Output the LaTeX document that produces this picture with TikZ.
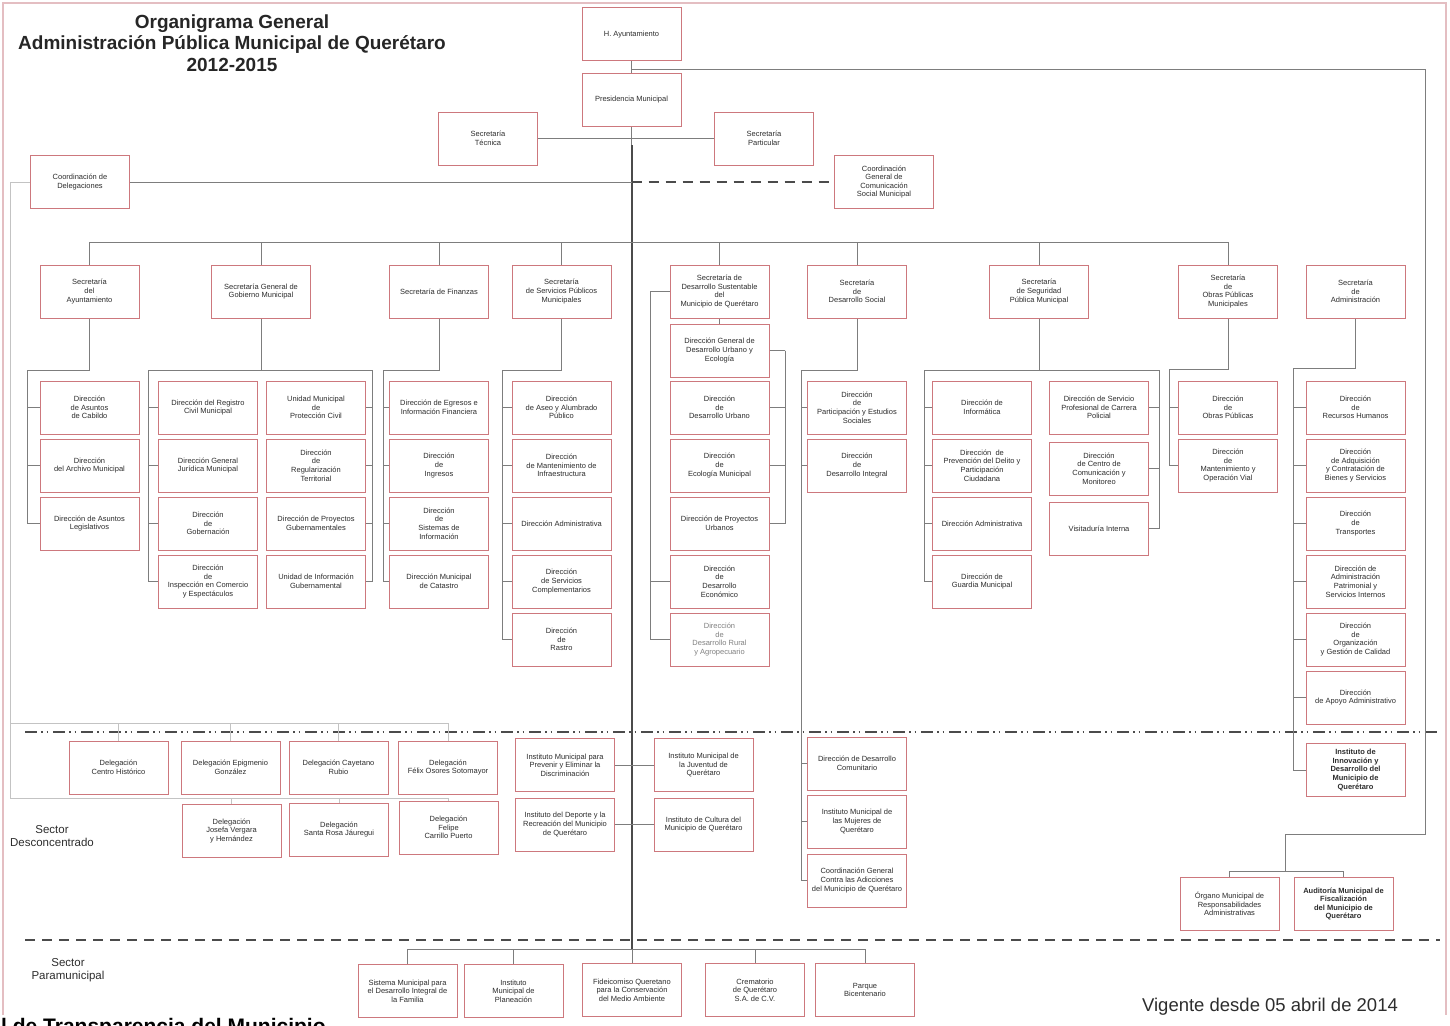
\documentclass[tikz,border=0pt]{standalone}
\usepackage{fontspec}
\setmainfont{Liberation Sans}
\definecolor{boxred}{RGB}{205,120,125}
\definecolor{linkgrey}{RGB}{125,125,125}
\definecolor{lightgrey}{RGB}{195,195,195}
\definecolor{darkgrey}{RGB}{75,75,75}
\definecolor{txtgrey}{RGB}{45,45,45}
\definecolor{framepink}{RGB}{228,190,194}
\newcommand\boxfont{\fontsize{7.5}{8.6}\selectfont}
\begin{document}
\begin{tikzpicture}[x=1pt,y=-1pt,
  box/.style={draw=boxred,line width=1pt,fill=white,minimum width=99pt,minimum height=53pt,align=center,text=txtgrey,font=\boxfont,inner sep=1pt},
  boldbox/.style={box,font=\boxfont\bfseries},
  link/.style={draw=linkgrey,line width=1pt},
  lightlink/.style={draw=lightgrey,line width=1pt},
  trunk/.style={draw=darkgrey,line width=2pt},
  sepline/.style={draw=darkgrey,line width=1.8pt}]
\useasboundingbox (0,0) rectangle (1450,1025);
\draw[framepink,line width=1.2pt] (3,1015) -- (3,3) -- (1446,3) -- (1446,1015);
\node[font=\bfseries\fontsize{19}{21.5}\selectfont,align=center,text=black!85] (title) at (232,43) {Organigrama General\\Administración Pública Municipal de Querétaro\\2012-2015};
\node[font=\fontsize{11.5}{12.5}\selectfont,align=center,text=txtgrey] (sdesc) at (52,836) {Sector\\Desconcentrado};
\node[font=\fontsize{11.5}{12.5}\selectfont,align=center,text=txtgrey] (spara) at (68,970) {Sector\\Paramunicipal};
\node[font=\fontsize{18.5}{20}\selectfont,text=txtgrey] (vig) at (1270,1007) {Vigente desde 05 abril de 2014};
\node[font=\bfseries\fontsize{21}{22}\selectfont,anchor=base west,inner sep=0pt] (transp) at (1,1033) {l de Transparencia del Municipio};
\draw[sepline,dash pattern=on 12pt off 4pt on 1.5pt off 4pt on 1.5pt off 5pt] (25,732) -- (1440,732);
\draw[sepline,dash pattern=on 10pt off 7pt] (25,940) -- (1440,940);
\node[box] (hayto) at (631.5,34.5) {H. Ayuntamiento};
\node[box] (pres) at (631.5,100) {Presidencia Municipal};
\node[box] (stec) at (488,138.5) {Secretaría\\Técnica};
\node[box] (spart) at (764,138.5) {Secretaría\\Particular};
\node[box] (cdel) at (80,182) {Coordinación de\\Delegaciones};
\node[box] (ccom) at (884,182) {Coordinación\\General de\\Comunicación\\Social Municipal};
\node[box] (sayto) at (89.5,291.5) {Secretaría\\del\\Ayuntamiento};
\node[box] (sgob) at (261,291.5) {Secretaría General de\\Gobierno Municipal};
\node[box] (sfin) at (439,291.5) {Secretaría de Finanzas};
\node[box] (sserv) at (561.5,291.5) {Secretaría\\de Servicios Públicos\\Municipales};
\node[box] (ssust) at (719.5,291.5) {Secretaría de\\Desarrollo Sustentable\\del\\Municipio de Querétaro};
\node[box] (ssoc) at (857,291.5) {Secretaría\\de\\Desarrollo Social};
\node[box] (sseg) at (1039,291.5) {Secretaría\\de Seguridad\\Pública Municipal};
\node[box] (sobr) at (1228,291.5) {Secretaría\\de\\Obras Públicas\\Municipales};
\node[box] (sadm) at (1355.5,291.5) {Secretaría\\de\\Administración};
\node[box] (dcab) at (89.5,407.5) {Dirección\\de Asuntos\\de Cabildo};
\node[box] (darch) at (89.5,465.5) {Dirección\\del Archivo Municipal};
\node[box] (dleg) at (89.5,523.5) {Dirección de Asuntos\\Legislativos};
\node[box] (dreg) at (208,407.5) {Dirección del Registro\\Civil Municipal};
\node[box] (djur) at (208,465.5) {Dirección General\\Jurídica Municipal};
\node[box] (dgobn) at (208,523.5) {Dirección\\de\\Gobernación};
\node[box] (dinsp) at (208,581.5) {Dirección\\de\\Inspección en Comercio\\y Espectáculos};
\node[box] (dpc) at (316,407.5) {Unidad Municipal\\de\\Protección Civil};
\node[box] (dregt) at (316,465.5) {Dirección\\de\\Regularización\\Territorial};
\node[box] (dproy) at (316,523.5) {Dirección de Proyectos\\Gubernamentales};
\node[box] (duig) at (316,581.5) {Unidad de Información\\Gubernamental};
\node[box] (degr) at (439,407.5) {Dirección de Egresos e\\Información Financiera};
\node[box] (ding) at (439,465.5) {Dirección\\de\\Ingresos};
\node[box] (dsis) at (439,523.5) {Dirección\\de\\Sistemas de\\Información};
\node[box] (dcat) at (439,581.5) {Dirección Municipal\\de Catastro};
\node[box] (dasal) at (561.5,407.5) {Dirección\\de Aseo y Alumbrado\\Público};
\node[box] (dmant) at (561.5,465.5) {Dirección\\de Mantenimiento de\\Infraestructura};
\node[box] (dadms) at (561.5,523.5) {Dirección Administrativa};
\node[box] (dscomp) at (561.5,581.5) {Dirección\\de Servicios\\Complementarios};
\node[box] (drast) at (561.5,639.5) {Dirección\\de\\Rastro};
\node[box] (dgdu) at (719.5,350.5) {Dirección General de\\Desarrollo Urbano y\\Ecología};
\node[box] (ddu) at (719.5,407.5) {Dirección\\de\\Desarrollo Urbano};
\node[box] (deco) at (719.5,465.5) {Dirección\\de\\Ecología Municipal};
\node[box] (dpu) at (719.5,523.5) {Dirección de Proyectos\\Urbanos};
\node[box] (ddec) at (719.5,581.5) {Dirección\\de\\Desarrollo\\Económico};
\node[box,text=gray] (drur) at (719.5,639.5) {Dirección\\de\\Desarrollo Rural\\y Agropecuario};
\node[box] (dpart) at (857,407.5) {Dirección\\de\\Participación y Estudios\\Sociales};
\node[box] (dint) at (857,465.5) {Dirección\\de\\Desarrollo Integral};
\node[box] (dcom) at (857,763.5) {Dirección de Desarrollo\\Comunitario};
\node[box] (imuj) at (857,821.5) {Instituto Municipal de\\las Mujeres de\\Querétaro};
\node[box] (cadic) at (857,880.5) {Coordinación General\\Contra las Adicciones\\del Municipio de Querétaro};
\node[box] (dinf) at (982,407.5) {Dirección de\\Informática};
\node[box] (dprev) at (982,465.5) {Dirección~ de\\Prevención del Delito y\\Participación\\Ciudadana};
\node[box] (dadmseg) at (982,523.5) {Dirección Administrativa};
\node[box] (dguar) at (982,581.5) {Dirección de\\Guardia Municipal};
\node[box] (dspc) at (1099,407.5) {Dirección de Servicio\\Profesional de Carrera\\Policial};
\node[box] (dccm) at (1099,468.5) {Dirección\\de Centro de\\Comunicación y\\Monitoreo};
\node[box] (dvis) at (1099,528.5) {Visitaduría Interna};
\node[box] (dobp) at (1228,407.5) {Dirección\\de\\Obras Públicas};
\node[box] (dmov) at (1228,465.5) {Dirección\\de\\Mantenimiento y\\Operación Vial};
\node[box] (drh) at (1355.5,407.5) {Dirección\\de\\Recursos Humanos};
\node[box] (dadq) at (1355.5,465.5) {Dirección\\de Adquisición\\y Contratación de\\Bienes y Servicios};
\node[box] (dtra) at (1355.5,523.5) {Dirección\\de\\Transportes};
\node[box] (dpat) at (1355.5,581.5) {Dirección de\\Administración\\Patrimonial y\\Servicios Internos};
\node[box] (dorg) at (1355.5,639.5) {Dirección\\de\\Organización\\y Gestión de Calidad};
\node[box] (dapo) at (1355.5,697.5) {Dirección\\de Apoyo Administrativo};
\node[boldbox] (iinn) at (1355.5,770) {Instituto de\\Innovación y\\Desarrollo del\\Municipio de\\Querétaro};
\node[box] (organo) at (1229.5,904) {Órgano Municipal de\\Responsabilidades\\Administrativas};
\node[boldbox] (audit) at (1343.5,904) {Auditoría Municipal de\\Fiscalización\\del Municipio de\\Querétaro};
\node[box] (ipred) at (565,765) {Instituto Municipal para\\Prevenir y Eliminar la\\Discriminación};
\node[box] (idep) at (565,824.5) {Instituto del Deporte y la\\Recreación del Municipio\\de Querétaro};
\node[box] (ijuv) at (703.5,765) {Instituto Municipal de\\la Juventud de\\Querétaro};
\node[box] (icul) at (703.5,824.5) {Instituto de Cultura del\\Municipio de Querétaro};
\node[box] (dlch) at (118.5,767.5) {Delegación\\Centro Histórico};
\node[box] (dlepi) at (230.5,767.5) {Delegación Epigmenio\\González};
\node[box] (dlcay) at (338.5,767.5) {Delegación Cayetano\\Rubio};
\node[box] (dlfel) at (448,767.5) {Delegación\\Félix Osores Sotomayor};
\node[box] (dljos) at (231.5,831) {Delegación\\Josefa Vergara\\y Hernández};
\node[box] (dlsr) at (339,829.5) {Delegación\\Santa Rosa Jáuregui};
\node[box] (dlfcp) at (448.5,827.5) {Delegación\\Felipe\\Carrillo Puerto};
\node[box] (sdif) at (407.5,991) {Sistema Municipal para\\el Desarrollo Integral de\\la Familia};
\node[box] (implan) at (513.5,991) {Instituto\\Municipal de\\Planeación};
\node[box] (fide) at (632,990) {Fideicomiso Queretano\\para la Conservación\\del Medio Ambiente};
\node[box] (crem) at (755,990) {Crematorio\\de Querétaro\\S.A. de C.V.};
\node[box] (parq) at (865,990) {Parque\\Bicentenario};
\coordinate (hbr) at (631.5,69);
\coordinate (tk) at (631.5,145);
\coordinate (sbus) at (631.5,242);
\coordinate (pbus) at (631.5,949);
\coordinate (cross) at (631.5,182);
\coordinate (aytoL) at (27,370);
\coordinate (gobL) at (148,370);
\coordinate (gobR) at (372,370);
\coordinate (finL) at (383,370);
\coordinate (servL) at (502,370);
\coordinate (susL) at (650,291.5);
\coordinate (susR) at (785,350.5);
\coordinate (socL) at (801,370);
\coordinate (segL) at (924,370);
\coordinate (segR) at (1159,370);
\coordinate (obrL) at (1169,369);
\coordinate (admL) at (1293,368);
\coordinate (ctl) at (1285,871);
\coordinate (delT) at (10,723);
\coordinate (delB) at (10,798);
\draw[link] (hayto) -- (pres);
\draw[link] (pres.south) -- (tk);
\draw[trunk] (tk) -- (pbus);
\draw[link] (hbr) -| (1425,834) -| (ctl);
\draw[link] (ctl) -| (organo.north);
\draw[link] (ctl) -| (audit.north);
\draw[link] (stec.east) -- (spart.west);
\draw[link] (cdel.east) -- (cross);
\draw[sepline,dash pattern=on 10pt off 7pt] (cross) -- (ccom.west);
\foreach \n in {sayto,sgob,sfin,sserv,ssust,ssoc,sseg,sobr}
  \draw[link] (sbus) -| (\n.north);
\draw[link] (sayto.south) |- (aytoL);
\foreach \n in {dcab,darch,dleg}
  \draw[link] (aytoL) |- (\n.west);
\draw[link] (sgob.south) -- (sgob.south |- gobL);
\draw[link] (gobL) -- (gobR);
\foreach \n in {dreg,djur,dgobn,dinsp}
  \draw[link] (gobL) |- (\n.west);
\foreach \n in {dpc,dregt,dproy,duig}
  \draw[link] (gobR) |- (\n.east);
\draw[link] (sfin.south) |- (finL);
\foreach \n in {degr,ding,dsis,dcat}
  \draw[link] (finL) |- (\n.west);
\draw[link] (sserv.south) |- (servL);
\foreach \n in {dasal,dmant,dadms,dscomp,drast}
  \draw[link] (servL) |- (\n.west);
\draw[link] (ssust.south) -- (dgdu.north);
\draw[link] (ssust.west) -- (susL);
\foreach \n in {ddec,drur}
  \draw[link] (susL) |- (\n.west);
\draw[link] (dgdu.east) -- (susR);
\foreach \n in {ddu,deco,dpu}
  \draw[link] (susR) |- (\n.east);
\draw[link] (ssoc.south) |- (socL);
\foreach \n in {dpart,dint,dcom,imuj,cadic}
  \draw[link] (socL) |- (\n.west);
\draw[link] (sseg.south) -- (sseg.south |- segL);
\draw[link] (segL) -- (segR);
\foreach \n in {dinf,dprev,dadmseg,dguar}
  \draw[link] (segL) |- (\n.west);
\foreach \n in {dspc,dccm,dvis}
  \draw[link] (segR) |- (\n.east);
\draw[link] (sobr.south) |- (obrL);
\foreach \n in {dobp,dmov}
  \draw[link] (obrL) |- (\n.west);
\draw[link] (sadm.south) |- (admL);
\foreach \n in {drh,dadq,dtra,dpat,dorg,dapo,iinn}
  \draw[link] (admL) |- (\n.west);
\draw[link] (ipred.east) -- (ijuv.west);
\draw[link] (idep.east) -- (icul.west);
\draw[lightlink] (cdel.west) -| (delB) -- (448,798);
\draw[lightlink] (delT) -- (448,723);
\foreach \n in {dlch,dlepi,dlcay,dlfel}
  \draw[lightlink] (\n.north |- delT) -- (\n.north);
\foreach \n in {dljos,dlsr,dlfcp}
  \draw[lightlink] (\n.north |- delB) -- (\n.north);
\foreach \n in {sdif,implan,fide,crem,parq}
  \draw[link] (pbus) -| (\n.north);
\end{tikzpicture}
\end{document}
